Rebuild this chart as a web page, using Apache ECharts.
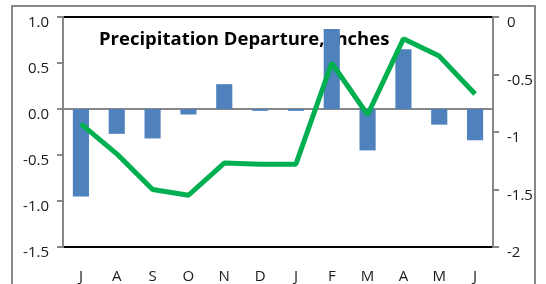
<!DOCTYPE html>
<html>
<head>
<meta charset="utf-8">
<script src="https://cdn.jsdelivr.net/npm/echarts@6/dist/echarts.min.js"></script>
<style>
  html, body { margin: 0; padding: 0; background: #fff; }
  #chart { width: 546px; height: 284px; }
</style>
</head>
<body>
<div id="chart"></div>
<script>
  // months Jul..Jun
  const categories = ['J', 'A', 'S', 'O', 'N', 'D', 'J', 'F', 'M', 'A', 'M', 'J']
  // monthly departure (left axis)
  const monthly = [-0.95, -0.27, -0.32, -0.06, 0.27, -0.02, -0.02, 0.87, -0.45, 0.65, -0.17, -0.34]
  // cumulative departure (right axis)
  const cumulative = [-0.93, -1.19, -1.50, -1.55, -1.27, -1.28, -1.28, -0.40, -0.85, -0.19, -0.34, -0.67]

  const gray = '#878787'
  const labelFont = { color: '#1a1a1a', fontSize: 15, fontFamily: 'Open Sans' }

  const chart = echarts.init(document.getElementById('chart'))
  chart.setOption({
    animation: false,
    graphic: [{
      type: 'rect',
      shape: { x: 12, y: 6, width: 523, height: 300 },
      style: { fill: 'none', stroke: gray, lineWidth: 2 },
      silent: true
    }, {
      type: 'text',
      left: 99,
      top: 30,
      style: {
        text: 'Precipitation Departure, Inches',
        font: 'bold 18.5px "Open Sans"',
        fill: '#000'
      }
    }],
    grid: {
      left: 63, right: 53, top: 17, bottom: 36,
      show: true,
      borderColor: '#000',
      borderWidth: 2
    },
    xAxis: [{
      // bottom labels
      type: 'category',
      data: categories,
      position: 'bottom',
      axisLine: { show: false, onZero: false },
      axisTick: { show: false },
      axisLabel: Object.assign({ margin: 22 }, labelFont)
    }, {
      // zero line with ticks going up
      type: 'category',
      data: categories,
      axisLine: { onZero: true, onZeroAxisIndex: 0, lineStyle: { color: gray, width: 2 } },
      axisTick: { inside: true, length: 6, lineStyle: { color: gray, width: 2 } },
      axisLabel: { show: false }
    }, {
      // zero line ticks going down
      type: 'category',
      data: categories,
      axisLine: { onZero: true, onZeroAxisIndex: 0, lineStyle: { color: gray, width: 2 } },
      axisTick: { inside: false, length: 6, lineStyle: { color: gray, width: 2 } },
      axisLabel: { show: false }
    }],
    yAxis: [{
      type: 'value',
      min: -1.5,
      max: 1,
      interval: 0.5,
      axisLine: { show: true, lineStyle: { color: gray, width: 2 } },
      axisTick: { show: true, length: 6, lineStyle: { color: gray, width: 2 } },
      splitLine: { show: false },
      axisLabel: Object.assign({ margin: 14, verticalAlign: 'top', lineHeight: 12, formatter: v => v.toFixed(1) }, labelFont)
    }, {
      type: 'value',
      min: -2,
      max: 0,
      interval: 0.5,
      position: 'right',
      axisLine: { show: true, lineStyle: { color: gray, width: 2 } },
      axisTick: { show: true, length: 6, lineStyle: { color: gray, width: 2 } },
      splitLine: { show: false },
      axisLabel: Object.assign({ margin: 14, verticalAlign: 'top', lineHeight: 12 }, labelFont)
    }],
    series: [{
      name: 'Monthly',
      type: 'bar',
      xAxisIndex: 0,
      yAxisIndex: 0,
      barWidth: '45%',
      itemStyle: { color: '#4F81BD' },
      data: monthly
    }, {
      name: 'Cumulative',
      type: 'line',
      xAxisIndex: 0,
      yAxisIndex: 1,
      symbol: 'none',
      lineStyle: { color: '#00B050', width: 5 },
      data: cumulative
    }]
  })
</script>
</body>
</html>
